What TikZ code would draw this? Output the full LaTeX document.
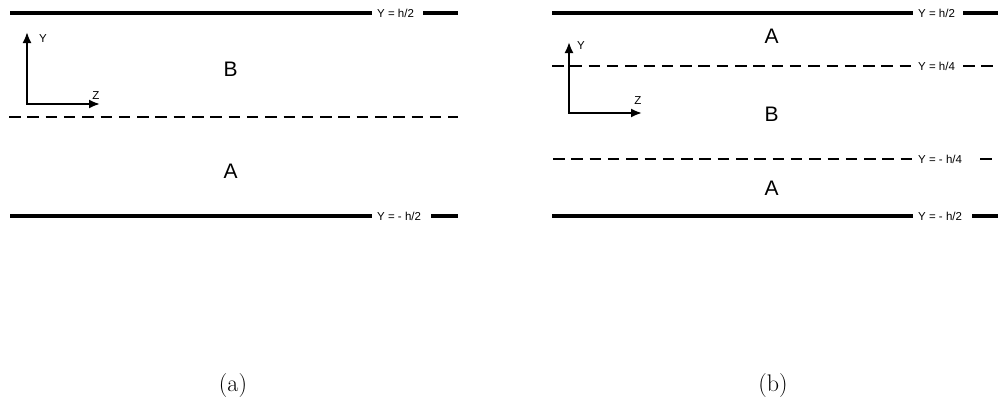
\documentclass[tikz,border=0pt]{standalone}
\usepackage{fontspec}
\newfontfamily\arial{Liberation Sans}
\usetikzlibrary{arrows.meta}
\begin{document}
\begin{tikzpicture}[x=1pt,y=-1pt,
 wall/.style={line width=3.8pt},
 iface/.style={line width=2.6pt, dash pattern=on 11.5pt off 6.8pt},
 lvl/.style={font=\arial\fontsize{11.5}{13}\selectfont, inner sep=0pt},
 region/.style={font=\arial\fontsize{21}{24}\selectfont, inner sep=0pt, anchor=base},
 axis/.style={line width=2pt, line join=miter, {Latex[length=11pt,width=9pt]}-{Latex[length=11pt,width=9pt]}},
 axlbl/.style={font=\arial\fontsize{11.5}{13}\selectfont, inner sep=0pt},
 subcap/.style={font=\fontsize{24}{28}\selectfont, inner sep=0pt}]
\useasboundingbox (0,0) rectangle (998,405);

% ---------- panel (a) ----------
\coordinate (a1s) at (10,13);  \coordinate (a1e) at (458,13);
\node[lvl, anchor=west] (a1l) at (377,13) {Y = h/2};
\draw[wall, shorten >=5pt] (a1s) -- (a1s -| a1l.west);
\draw[wall, shorten <=9pt] (a1l.east |- a1e) -- (a1e);

\coordinate (a2s) at (9,117);  \coordinate (a2e) at (458,117);
\draw[iface] (a2s) -- (a2e);

\coordinate (a3s) at (10,216); \coordinate (a3e) at (458,216);
\node[lvl, anchor=west] (a3l) at (377,216) {Y = - h/2};
\draw[wall, shorten >=5pt] (a3s) -- (a3s -| a3l.west);
\draw[wall, shorten <=10pt] (a3l.east |- a3e) -- (a3e);

\node[region] (aB) at (230.7,76) {B};
\node[region] (aA) at (230.7,178) {A};

\coordinate (ao) at (27,104); \coordinate (ay) at (27,32); \coordinate (az) at (100,104);
\draw[axis] (ay) -- (ao) -- (az);
\node[axlbl] (aYl) at (43,39) {Y};
\node[axlbl] (aZl) at (96,96) {Z};

\node[subcap] (capa) at (233,386) {(a)};

% ---------- panel (b) ----------
\coordinate (b1s) at (552,13);  \coordinate (b1e) at (998,13);
\node[lvl, anchor=west] (b1l) at (918,13) {Y = h/2};
\draw[wall, shorten >=5pt] (b1s) -- (b1s -| b1l.west);
\draw[wall, shorten <=8pt] (b1l.east |- b1e) -- (b1e);

\coordinate (b2s) at (552,66);  \coordinate (b2e) at (998,66);
\node[lvl, anchor=west] (b2l) at (918,66) {Y = h/4};
\draw[iface, shorten >=5pt] (b2s) -- (b2s -| b2l.west);
\draw[iface, shorten <=8pt] (b2l.east |- b2e) -- (b2e);

\coordinate (b3s) at (553,159);  \coordinate (b3e) at (998,159);
\node[lvl, anchor=west] (b3l) at (918,159) {Y = - h/4};
\draw[iface, shorten >=6pt] (b3s) -- (b3s -| b3l.west);
\draw[iface, shorten <=18pt] (b3l.east |- b3e) -- (b3e);

\coordinate (b4s) at (552,216);  \coordinate (b4e) at (998,216);
\node[lvl, anchor=west] (b4l) at (918,216) {Y = - h/2};
\draw[wall, shorten >=5pt] (b4s) -- (b4s -| b4l.west);
\draw[wall, shorten <=10pt] (b4l.east |- b4e) -- (b4e);

\node[region] (bA1) at (771.5,43) {A};
\node[region] (bB) at (771.5,121) {B};
\node[region] (bA2) at (771.5,195) {A};

\coordinate (bo) at (569,113); \coordinate (by) at (569,42); \coordinate (bz) at (642,113);
\draw[axis] (by) -- (bo) -- (bz);
\node[axlbl] (bYl) at (581,46) {Y};
\node[axlbl] (bZl) at (638,101) {Z};

\node[subcap] (capb) at (773,386) {(b)};
\end{tikzpicture}
\end{document}
